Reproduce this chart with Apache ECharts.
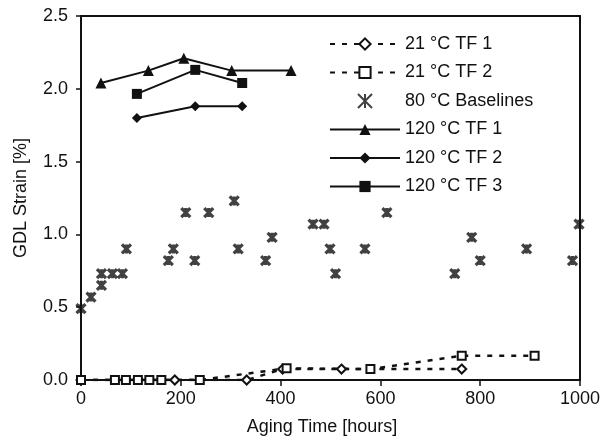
<!DOCTYPE html>
<html>
<head>
<meta charset="utf-8">
<script src="https://cdn.jsdelivr.net/npm/echarts@6/dist/echarts.min.js"></script>
<style>
  html, body { margin: 0; padding: 0; background: #fff; }
  #chart { width: 606px; height: 441px; }
</style>
</head>
<body>
<div id="chart"></div>
<script>
// values
const xTicks = [0, 200, 400, 600, 800, 1000]
const yTicks = [0, 0.5, 1.0, 1.5, 2.0, 2.5]

const tf1_21Hours = [0, 188, 332, 404, 522, 763]
const tf1_21Strain = [0, 0, 0, 0.075, 0.075, 0.075]

const tf2_21Hours = [0, 68, 90, 114, 137, 161, 238, 412, 580, 763, 909]
const tf2_21Strain = [0, 0, 0, 0, 0, 0, 0, 0.08, 0.075, 0.167, 0.167]

const baseHours = [0, 20, 41, 41, 63, 83, 91, 175, 185, 210, 228, 256, 307, 315, 370, 383,
  465, 487, 499, 510, 569, 613, 749, 783, 800, 893, 985, 998]
const baseStrain = [0.49, 0.57, 0.65, 0.73, 0.73, 0.73, 0.90, 0.82, 0.90, 1.15, 0.82, 1.15, 1.23, 0.90, 0.82, 0.98,
  1.07, 1.07, 0.90, 0.73, 0.90, 1.15, 0.73, 0.98, 0.82, 0.90, 0.82, 1.07]

const tf1_120Hours = [40, 135, 206, 302, 421]
const tf1_120Strain = [2.04, 2.125, 2.21, 2.125, 2.125]

const tf2_120Hours = [112, 229, 323]
const tf2_120Strain = [1.80, 1.88, 1.88]

const tf3_120Hours = [112, 229, 323]
const tf3_120Strain = [1.965, 2.13, 2.04]

const zip = (xs, ys) => xs.map((x, i) => [x, ys[i]])

const ink = '#111'
const font = 'Liberation Sans, Arial, sans-serif'
const asterisk = 'path://M0,0L10,10M10,0L0,10M5,0L5,10'

const chart = echarts.init(document.getElementById('chart'))

chart.setOption({
  animation: false,
  textStyle: { fontFamily: font },
  grid: { left: 81, right: 26, top: 16, bottom: 58, show: true, borderColor: ink, borderWidth: 2 },
  legend: {
    orient: 'vertical',
    left: 324,
    top: 30,
    itemWidth: 70,
    itemHeight: 14,
    itemGap: 10.5,
    textStyle: { fontSize: 18, color: ink, fontFamily: font },
    data: ['21 °C TF 1', '21 °C TF 2', '80 °C Baselines', '120 °C TF 1', '120 °C TF 2', '120 °C TF 3'],
  },
  xAxis: {
    type: 'value',
    min: xTicks[0],
    max: xTicks[xTicks.length - 1],
    interval: 200,
    name: 'Aging Time [hours]',
    nameLocation: 'middle',
    nameGap: 38,
    nameTextStyle: { fontSize: 18, color: ink, padding: [0, 17, 0, 0] },
    axisLine: { lineStyle: { color: ink, width: 2 } },
    axisTick: { show: true, length: 6, lineStyle: { color: ink, width: 1.5 } },
    axisLabel: { fontSize: 18, color: ink, margin: 10, formatter: (v) => String(v) },
    splitLine: { show: false },
  },
  yAxis: {
    type: 'value',
    min: yTicks[0],
    max: yTicks[yTicks.length - 1],
    interval: 0.5,
    name: 'GDL Strain [%]',
    nameLocation: 'middle',
    nameGap: 51,
    nameTextStyle: { fontSize: 18, color: ink },
    axisLine: { show: true, lineStyle: { color: ink, width: 2 } },
    axisTick: { show: true, length: 5, lineStyle: { color: ink, width: 1.5 } },
    axisLabel: { fontSize: 18, color: ink, margin: 13, formatter: (v) => v.toFixed(1) },
    splitLine: { show: false },
  },
  series: [
    {
      name: '21 °C TF 1', type: 'line', data: zip(tf1_21Hours, tf1_21Strain),
      symbol: 'diamond', symbolSize: 9,
      lineStyle: { color: ink, width: 2.5, type: [5, 7] },
      itemStyle: { color: '#fff', borderColor: ink, borderWidth: 2 },
    },
    {
      name: '21 °C TF 2', type: 'line', data: zip(tf2_21Hours, tf2_21Strain),
      symbol: 'rect', symbolSize: 8,
      lineStyle: { color: ink, width: 2.5, type: [5, 7] },
      itemStyle: { color: '#fff', borderColor: ink, borderWidth: 2 },
    },
    {
      name: '80 °C Baselines', type: 'scatter', data: zip(baseHours, baseStrain),
      symbol: asterisk, symbolSize: 9,
      itemStyle: { color: ink, borderColor: ink, borderWidth: 3.2 },
    },
    {
      name: '120 °C TF 1', type: 'line', data: zip(tf1_120Hours, tf1_120Strain),
      symbol: 'triangle', symbolSize: 11,
      lineStyle: { color: ink, width: 2 },
      itemStyle: { color: ink },
    },
    {
      name: '120 °C TF 2', type: 'line', data: zip(tf2_120Hours, tf2_120Strain),
      symbol: 'diamond', symbolSize: 10,
      lineStyle: { color: ink, width: 2 },
      itemStyle: { color: ink },
    },
    {
      name: '120 °C TF 3', type: 'line', data: zip(tf3_120Hours, tf3_120Strain),
      symbol: 'rect', symbolSize: 10,
      lineStyle: { color: ink, width: 2 },
      itemStyle: { color: ink },
    },
  ],
})
</script>
</body>
</html>
